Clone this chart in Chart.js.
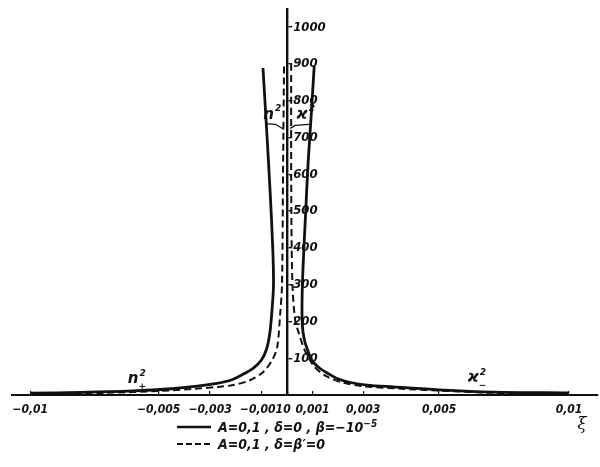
<!DOCTYPE html>
<html>
<head>
<meta charset="utf-8">
<script src="https://cdn.jsdelivr.net/npm/chart.js@4.4.1/dist/chart.umd.min.js"></script>
<style>
    body { margin: 0; background: #fff; }
    #wrap { position: relative; width: 600px; height: 467px; }
    #legend {
        position: absolute; left: 177px; top: 418px;
        font: italic bold 14px "Liberation Sans Narrow", "DejaVu Sans Condensed", sans-serif;
        color: #111;
    }
    #legend .row { display: flex; align-items: center; height: 17px; white-space: nowrap; }
    #legend svg { margin-right: 7px; flex: none; }
    #legend sup { font-size: 10px; vertical-align: 5px; line-height: 0; }
</style>
</head>
<body>
<div id="wrap">
    <canvas id="chart" width="600" height="467"></canvas>
    <div id="legend">
        <div class="row"><svg width="34" height="4"><line x1="0" y1="2" x2="34" y2="2" stroke="#111" stroke-width="2.5"/></svg><span>A=0,1 , δ=0 , β=−10<sup>−5</sup></span></div>
        <div class="row"><svg width="34" height="4"><line x1="0" y1="2" x2="34" y2="2" stroke="#111" stroke-width="2.2" stroke-dasharray="6 3"/></svg><span>A=0,1 , δ=β′=0</span></div>
    </div>
</div>
<script>
// ξ axis ticks and n²/ϰ² axis ticks
const xTicks = [-0.01, -0.005, -0.003, -0.001, 0, 0.001, 0.003, 0.005, 0.01];
const yTicks = [100, 200, 300, 400, 500, 600, 700, 800, 900, 1000];

// A=0,1, δ=0, β=-10^-5 (solid)
const nSolidXi  = [-0.01, -0.008, -0.006, -0.0045, -0.0035, -0.0028, -0.0022, -0.0017, -0.0013, -0.001, -0.0008, -0.00067, -0.00059, -0.00053, -0.00056, -0.00066, -0.00078, -0.00094];
const nSolidVal = [5, 7, 11, 17, 24, 31, 40, 57, 74, 95, 125, 170, 230, 300, 400, 550, 700, 889];
const kSolidXi  = [0.00107, 0.00095, 0.00083, 0.00072, 0.00063, 0.00059, 0.0006, 0.00068, 0.00082, 0.001, 0.0013, 0.0016, 0.002, 0.0025, 0.0031, 0.0038, 0.005, 0.0071, 0.01];
const kSolidVal = [895, 760, 633, 480, 350, 260, 190, 150, 120, 92, 72, 59, 44, 34, 27, 22, 14, 8, 6];

// A=0,1, δ=β'=0 (dashed)
const nDashXi  = [-0.01, -0.007, -0.005, -0.0036, -0.0027, -0.0021, -0.00145, -0.00094, -0.00059, -0.00039, -0.00027, -0.0002, -0.00016, -0.00012];
const nDashVal = [3, 6, 11, 17, 22, 27, 40, 62, 94, 129, 221, 300, 600, 900];
const kDashXi  = [0.00016, 0.00016, 0.00018, 0.00022, 0.00032, 0.00043, 0.0007, 0.0011, 0.0016, 0.0022, 0.003, 0.004, 0.005, 0.007, 0.01];
const kDashVal = [900, 600, 400, 283, 202, 175, 121, 75, 49, 34, 24, 17, 12, 6, 3];

// the printed ξ axis is not evenly spaced, so map values through these knots
const xKnots = [-0.01, 0, 0.003, 0.005, 0.01];
const xKnotFrac = [0.0307, 0.4693, 0.599, 0.7287, 0.9505];

const INK = '#111';
const tickFont = { family: '"Liberation Sans Narrow", "DejaVu Sans Condensed", sans-serif', style: 'italic', weight: 'bold', size: 12 };

function interp(v, from, to) {
    let i = 0;
    while (i < from.length - 2 && v > from[i + 1]) i++;
    return to[i] + (v - from[i]) * (to[i + 1] - to[i]) / (from[i + 1] - from[i]);
}

class PiecewiseScale extends Chart.LinearScale {
    getPixelForValue(value) {
        return this.left + this.width * interp(value, xKnots, xKnotFrac);
    }
    getValueForPixel(pixel) {
        return interp((pixel - this.left) / this.width, xKnotFrac, xKnots);
    }
}
PiecewiseScale.id = 'piecewise';
PiecewiseScale.defaults = Chart.LinearScale.defaults;
Chart.register(PiecewiseScale);

function points(xs, ys) {
    return xs.map((x, i) => ({ x: x, y: ys[i] }));
}

function fmtXi(v) {
    if (v === 0) return '0';
    return (v < 0 ? '−' : '') + String(Math.abs(v)).replace('.', ',');
}

// y axis sits on ξ = 0 instead of at the edge; labels need room to its right
const moveYAxis = {
    id: 'moveYAxis',
    afterLayout(chart) {
        const y = chart.scales.y;
        const x0 = chart.scales.x.getPixelForValue(0);
        y.left = x0;
        y.right = x0 + 45;
    }
};

// n², ϰ² labels, leader strokes and the ξ caption
const curveNotes = {
    id: 'curveNotes',
    afterDatasetsDraw(chart) {
        const { ctx, scales: { x, y } } = chart;
        const px = v => x.getPixelForValue(v);
        const py = v => y.getPixelForValue(v);
        ctx.save();
        ctx.fillStyle = INK;
        ctx.strokeStyle = INK;
        ctx.lineWidth = 1.3;

        const big = 'italic bold 15px "DejaVu Sans", sans-serif';
        const small = 'italic bold 9px "DejaVu Sans", sans-serif';

        function note(base, sup, sub, cx, cy) {
            ctx.font = big;
            ctx.textBaseline = 'middle';
            ctx.textAlign = 'left';
            const w = ctx.measureText(base).width;
            ctx.fillText(base, cx, cy);
            ctx.font = small;
            if (sup) ctx.fillText(sup, cx + w + 1, cy - 6);
            if (sub) ctx.fillText(sub, cx + w, cy + 7);
        }

        note('n', '2', null, px(-0.00093), py(762));
        note('ϰ', '2', null, px(0.00037), py(762));
        note('n', '2', '+', px(-0.0062), py(42));
        note('ϰ', '2', '−', px(0.0061), py(45));

        ctx.beginPath();
        ctx.moveTo(px(-0.00086), py(738));
        ctx.lineTo(px(-0.00045), py(736));
        ctx.lineTo(px(-0.00012), py(722));
        ctx.moveTo(px(0.00087), py(736));
        ctx.lineTo(px(0.00032), py(733));
        ctx.lineTo(px(0.00012), py(725));
        ctx.stroke();

        ctx.font = 'italic 17px "DejaVu Serif", serif';
        ctx.textAlign = 'center';
        ctx.fillText('ξ', px(0.0105), py(-80));
        ctx.restore();
    }
};

new Chart(document.getElementById('chart'), {
    type: 'line',
    data: {
        datasets: [
            { data: points(nSolidXi, nSolidVal), borderColor: INK, borderWidth: 2.8 },
            { data: points(kSolidXi, kSolidVal), borderColor: INK, borderWidth: 2.8 },
            { data: points(nDashXi, nDashVal), borderColor: INK, borderWidth: 2, borderDash: [7, 4] },
            { data: points(kDashXi, kDashVal), borderColor: INK, borderWidth: 2, borderDash: [7, 4] }
        ]
    },
    options: {
        responsive: false,
        animation: false,
        events: [],
        layout: { autoPadding: false, padding: { left: 12, right: 2, top: 5, bottom: 0 } },
        elements: { point: { radius: 0 }, line: { tension: 0.3, fill: false } },
        plugins: { legend: { display: false }, tooltip: { enabled: false } },
        scales: {
            x: {
                type: 'piecewise',
                min: -0.011,
                max: 0.011,
                afterFit: s => { s.height = 72; },
                afterBuildTicks: s => { s.ticks = xTicks.map(v => ({ value: v })); },
                border: { color: INK, width: 2 },
                grid: { drawOnChartArea: false, tickLength: -4, color: INK, lineWidth: 1.2 },
                ticks: { color: INK, font: tickFont, padding: 12, maxRotation: 0, autoSkip: false, callback: v => fmtXi(v) }
            },
            y: {
                position: 'right',
                min: 0,
                max: 1050,
                afterFit: s => { s.width = 0; },
                afterBuildTicks: s => { s.ticks = yTicks.map(v => ({ value: v })); },
                border: { color: INK, width: 2.4 },
                grid: { drawOnChartArea: false, tickLength: 5, color: INK, lineWidth: 1.4 },
                ticks: { color: INK, font: { ...tickFont, size: 13 }, padding: 1, autoSkip: false, callback: v => String(v) }
            }
        }
    },
    plugins: [moveYAxis, curveNotes]
});
</script>
</body>
</html>
